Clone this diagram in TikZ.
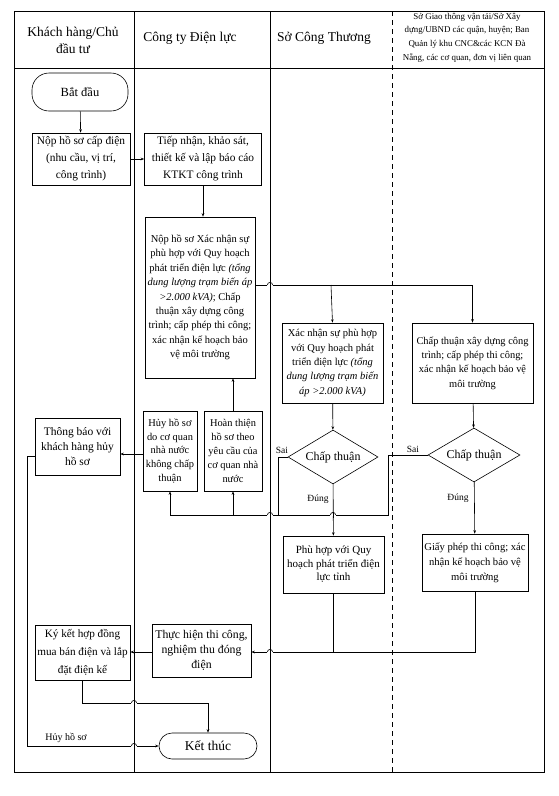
\documentclass[tikz,border=0pt]{standalone}
\usepackage{fontspec}
\setmainfont{Liberation Serif}
\usetikzlibrary{shapes.geometric,arrows.meta}
\newcommand\jumpat[2]{%
  \fill[white] ({#1-2.6},{#2-0.9}) rectangle ({#1+2.6},{#2+0.9});
  \draw ({#1},{#2-3.2}) -- ({#1},{#2+3.2});
  \draw ({#1-2.6},{#2}) arc[start angle=180,end angle=360,radius=2.6];}
\begin{document}
\begin{tikzpicture}[x=1pt,y=-1pt,line width=0.6pt,
  box/.style={draw,align=center,inner sep=0.5pt},
  term/.style={draw,align=center,inner sep=1pt,rounded corners=13pt,font=\fontsize{12.5}{14}\selectfont},
  dec/.style={draw,diamond,aspect=1.667,inner sep=0pt,font=\fontsize{12}{13}\selectfont},
  fbig/.style={font=\fontsize{11.4}{17}\selectfont},
  fmid/.style={font=\fontsize{11.5}{15}\selectfont},
  fsm/.style={font=\fontsize{10.5}{14.4}\selectfont},
  fnar/.style={font=\fontsize{10.4}{13.8}\selectfont},
  hdr/.style={align=center,font=\fontsize{13.5}{17}\selectfont},
  lbl/.style={font=\fontsize{9.5}{11}\selectfont,inner sep=0pt},
  arr/.style={-{Stealth[length=3.5pt,width=2.6pt]}},
  lane/.style={line width=0.7pt},
  dlane/.style={line width=0.7pt,dash pattern=on 5pt off 4pt}]
\useasboundingbox (0,0) rectangle (559,796);

% swimlane frame
\draw[lane] (14,11) rectangle (544,772);
\draw[lane] (14,68) -- (544,68);
\draw[lane] (134,11) -- (134,772);
\draw[lane] (270,11) -- (270,772);
\draw[dlane] (392,11) -- (392,772);

% headers
\node[hdr] (h1) at (73,40) {Khách hàng/Chủ\\đầu tư};
\node[hdr] (h2) at (190,38) {Công ty Điện lực};
\node[hdr] (h3) at (324,38) {Sở Công Thương};
\node[align=center,font=\fontsize{8.9}{13.6}\selectfont] (h4) at (467,37.5)
  {Sở Giao thông vận tải/Sở Xây\\dựng/UBND các quận, huyện; Ban\\Quản lý khu CNC\&các KCN Đà\\Nẵng, các cơ quan, đơn vị liên quan};

% nodes
\node[term,minimum width=96pt,minimum height=38pt,rounded corners=17pt] (start) at (80,92) {Bắt đầu};
\node[box,fbig,minimum width=98pt,minimum height=52pt] (n1) at (81,159) {Nộp hồ sơ cấp điện\\(nhu cầu, vị trí,\\công trình)};
\node[box,fbig,minimum width=117pt,minimum height=52pt] (n2) at (203,159) {Tiếp nhận, khảo sát,\\thiết kế và lập báo cáo\\KTKT công trình};
\node[box,fsm,minimum width=110pt,minimum height=161pt] (n3) at (200,297.5)
  {Nộp hồ sơ Xác nhận sự\\phù hợp với Quy hoạch\\phát triển điện lực \textit{(tổng}\\\textit{dung lượng trạm biến áp}\\\textit{>2.000 kVA)}; Chấp\\thuận xây dựng công\\trình; cấp phép thi công;\\xác nhận kế hoạch bảo\\vệ môi trường};
\node[box,fsm,minimum width=101pt,minimum height=80pt] (n4) at (332.5,363)
  {Xác nhận sự phù hợp\\với Quy hoạch phát\\triển điện lực \textit{(tổng}\\\textit{dung lượng trạm biến}\\\textit{áp >2.000 kVA)}};
\node[box,font=\fontsize{10.4}{14.4}\selectfont,minimum width=121pt,minimum height=80pt] (n5) at (472.5,363)
  {Chấp thuận xây dựng công\\trình; cấp phép thi công;\\xác nhận kế hoạch bảo vệ\\môi trường};
\node[dec,minimum width=90pt,minimum height=54pt] (d1) at (333,457) {Chấp thuận};
\node[dec,minimum width=92pt,minimum height=54pt] (d2) at (474,455) {Chấp thuận};
\node[box,font=\fontsize{11}{13.5}\selectfont,minimum width=101pt,minimum height=57pt] (n6) at (333.5,564.5) {Phù hợp với Quy\\hoạch phát triển điện\\lực tỉnh};
\node[box,font=\fontsize{10.6}{15}\selectfont,minimum width=106pt,minimum height=57pt] (n7) at (475,562.5) {Giấy phép thi công; xác\\nhận kế hoạch bảo vệ\\môi trường};
\node[box,fmid,minimum width=85pt,minimum height=57pt] (n8) at (77.5,446.5) {Thông báo với\\khách hàng hủy\\hồ sơ};
\node[box,fnar,minimum width=54pt,minimum height=80pt] (n9) at (170,451) {Hủy hồ sơ\\do cơ quan\\nhà nước\\không chấp\\thuận};
\node[box,fnar,minimum width=58pt,minimum height=80pt] (n10) at (233,451) {Hoàn thiện\\hồ sơ theo\\yêu cầu của\\cơ quan nhà\\nước};
\node[box,font=\fontsize{11.8}{15}\selectfont,minimum width=99pt,minimum height=53pt] (n11) at (201.5,650.5) {Thực hiện thi công,\\nghiệm thu đóng\\điện};
\node[box,font=\fontsize{11.2}{18}\selectfont,minimum width=95pt,minimum height=55pt] (n12) at (82.5,652.5) {Ký kết hợp đồng\\mua bán điện và lắp\\đặt điện kế};
\node[term,font=\fontsize{13.5}{15}\selectfont,minimum width=98pt,minimum height=26pt] (end) at (208,746) {Kết thúc};

% junction coordinates
\coordinate (j1) at (331,285);
\coordinate (bL) at (170,515);
\coordinate (bR) at (388,515);
\coordinate (sL) at (278,515);
\coordinate (cy) at (0,454);
\coordinate (rx) at (27,0);
\coordinate (by) at (0,652);
\coordinate (ky) at (0,703);

% connectors
\draw[arr] (start) -- (n1);
\draw[arr] (n1) -- (n2);
\draw[arr] (n2.south) -- (n2.south |- n3.north);
\draw[arr] (n3.east |- j1) -- (n5.north |- j1) -- (n5.north);
\draw[arr] (j1) -- (n4.north);
\draw[arr] (n4) -- (d1);
\draw[arr] (n5) -- (d2);
\draw[arr] (d1) -- (n6);
\draw[arr] (d2) -- (n7);
\draw (d2.west) -| (bR) -- (bL);
\draw (d1.west) -| (sL);
\draw[arr] (bL) -- (n9.south);
\draw[arr] (n10.south |- bL) -- (n10.south);
\draw[arr] (n10.north) -- (n10.north |- n3.south);
\draw[arr] (n9.west |- cy) -- (n8.east |- cy);
\draw[arr] (n8.west |- 0,456) -| (rx |- end.west) -- (end.west);
\draw (n6.south) -- (n6.south |- by);
\draw[arr] (n7.south) -- (n7.south |- by) -- (n11.east |- by);
\draw[arr] (n11.west |- by) -- (n12.east |- by);
\draw[arr] (n12.south) -- (n12.south |- ky) -| (end.north);

% line jumps
\jumpat{270}{285}
\jumpat{270}{515}
\jumpat{333}{515}
\jumpat{270}{652}
\jumpat{134}{703}
\jumpat{134}{746}

% labels
\node[lbl] (s1) at (282,450) {Sai};
\node[lbl] (s2) at (413,449) {Sai};
\node[lbl] (t1) at (318,499) {Đúng};
\node[lbl] (t2) at (458,498) {Đúng};
\node[lbl,font=\fontsize{10}{11}\selectfont] (hh) at (66,738) {Hủy hồ sơ};
\end{tikzpicture}
\end{document}
